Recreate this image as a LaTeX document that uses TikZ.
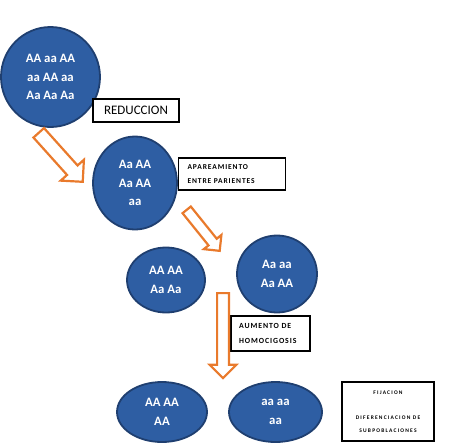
\documentclass[tikz,border=0pt]{standalone}
\usepackage{fontspec}
\setmainfont{Carlito}
\newfontfamily\spacedfont[LetterSpace=12]{Carlito}
\newfontfamily\tinyfont[LetterSpace=22]{Carlito}
\usetikzlibrary{shapes.geometric, shapes.arrows, calc, positioning}
\definecolor{popblue}{HTML}{2E5EA3}
\definecolor{popedge}{HTML}{1F3F70}
\definecolor{arroworange}{HTML}{E97A2C}
\tikzstyle{population} = [ellipse, draw=popedge, line width=1.8pt, fill=popblue, text=white, align=center, inner sep=0pt, font=\fontsize{12.8}{18.5}\selectfont\bfseries]
\tikzstyle{labelbox} = [rectangle, draw=black, line width=1.6pt, fill=white, font=\fontsize{13}{15}\selectfont]
\tikzstyle{notebox} = [labelbox, align=left, inner xsep=8pt, font=\fontsize{7.5}{14.5}\selectfont\spacedfont\bfseries]
\tikzset{blockarrow/.style n args={2}{to path={let \p1=($(\tikztotarget)-(\tikztostart)$), \n1={veclen(\x1,\y1)}, \n2={atan2(\y1,\x1)} in node[single arrow, draw=arroworange, fill=white, line width=2.2pt, inner xsep=0pt, inner ysep=#1, minimum width=0pt, single arrow head extend=#2, minimum height=\n1, rotate=\n2, anchor=tail] at (\tikztostart) {}}}}

\begin{document}
\begin{tikzpicture}[x=1pt, y=-1pt]
\useasboundingbox (0,0) rectangle (460,447);

% Nodes
\node[population, minimum width=99pt, minimum height=100pt] (pop1) at (50.5,77) {AA aa AA\\aa AA aa\\Aa Aa Aa};
\node[population, minimum width=84pt, minimum height=93pt] (pop2) at (135,183) {Aa AA\\Aa AA\\aa};
\node[population, minimum width=78pt, minimum height=65pt] (pop3) at (166,280) {AA AA\\Aa Aa};
\node[population, minimum width=80pt, minimum height=77pt] (pop4) at (277,274) {Aa aa\\Aa AA};
\node[population, minimum width=90pt, minimum height=60pt] (pop5) at (162,412) {AA AA\\AA};
\node[population, minimum width=93pt, minimum height=60pt] (pop6) at (275.5,412) {aa aa\\aa};

\node[labelbox, minimum width=86pt, minimum height=23pt] (reduccion) at (136,110.5) {REDUCCION};
\node[notebox, text width=89pt, minimum height=32pt, inner xsep=9pt] (apareamiento) at (232,174) {APAREAMIENTO\\ENTRE PARIENTES};
\node[notebox, text width=63pt, minimum height=35pt, font=\fontsize{7.8}{15}\selectfont\spacedfont\bfseries] (aumento) at (270.5,333.5) {AUMENTO DE\\HOMOCIGOSIS};
\node[labelbox, align=center, minimum width=92pt, minimum height=59pt, font=\fontsize{5.5}{13}\selectfont\tinyfont\bfseries] (fijacion) at (388,411.5) {FIJACION\\[12pt]DIFERENCIACION DE\\SUBPOBLACIONES};

\coordinate (redstart) at (38,132);
\coordinate (redend) at (82,181);
\coordinate (apastart) at (186,209);
\coordinate (apaend) at (219,250);
\coordinate (aumstart) at (223,292);
\coordinate (aumend) at (223,377);

% Arrows
\path[blockarrow={6pt}{8.5pt}] (redstart) to (redend);
\path[blockarrow={4.2pt}{6pt}] (apastart) to (apaend);
\path[blockarrow={4.8pt}{7.5pt}] (aumstart) to (aumend);

\end{tikzpicture}
\end{document}
